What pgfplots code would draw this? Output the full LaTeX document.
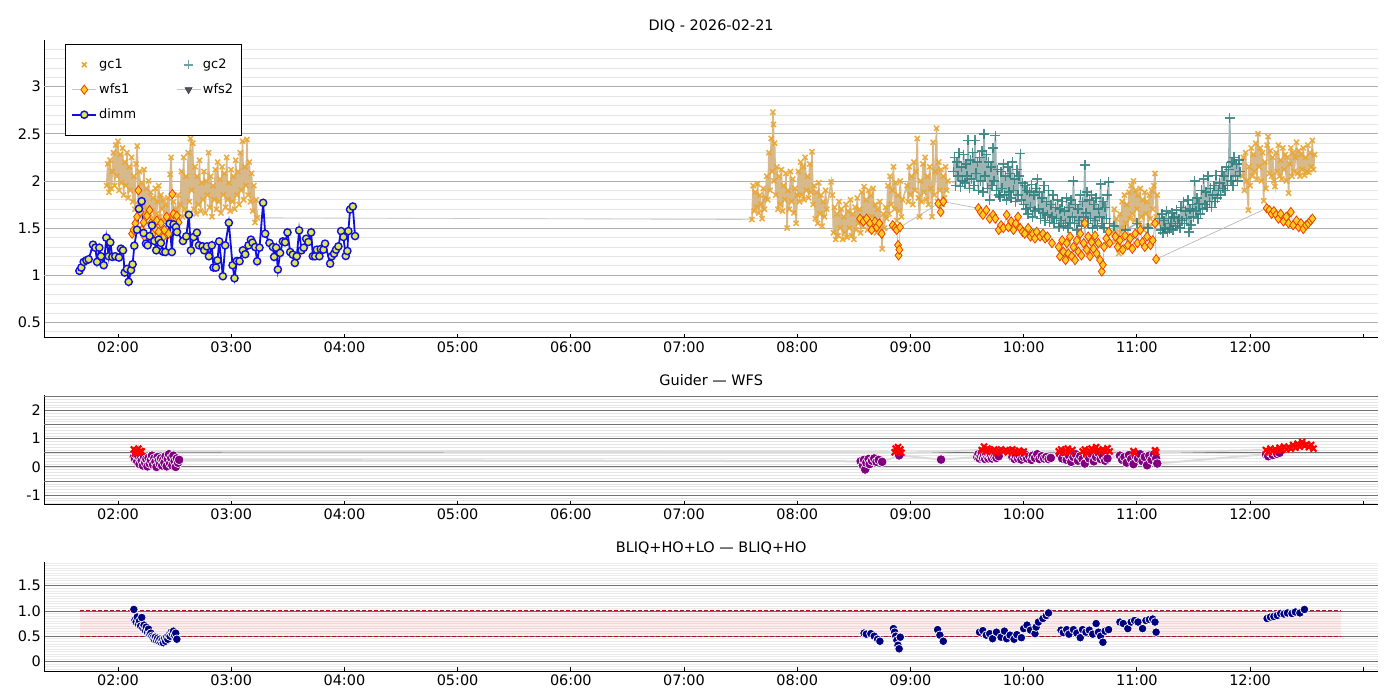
\documentclass[border=0pt]{standalone}
\usepackage{fontspec}
\setmainfont{DejaVu Sans}
\usepackage{pgfplots}
\usepackage{pgfplotstable}
\pgfplotsset{compat=1.18}

\definecolor{gcone}{RGB}{234,166,50}
\definecolor{gconeline}{RGB}{216,186,138}
\definecolor{gctwo}{RGB}{45,125,125}
\definecolor{gctwoline}{RGB}{155,180,180}
\definecolor{wfsfill}{RGB}{255,205,35}
\definecolor{wfsedge}{RGB}{235,65,0}
\definecolor{dimmblue}{RGB}{15,15,225}
\definecolor{dimmfill}{RGB}{225,230,80}
\definecolor{wfstwo}{RGB}{85,85,95}
\definecolor{purp}{RGB}{128,0,128}
\definecolor{navyc}{RGB}{0,0,128}
\definecolor{dred}{RGB}{170,20,30}

\pgfplotstableread[row sep=\\]{
x y\\
1.90 1.95\\ 1.91 2.18\\ 1.92 1.88\\ 1.93 2.22\\ 1.94 1.92\\ 1.95 2.10\\ 1.96 2.30\\ 1.97 1.95\\ 1.98 2.38\\ 1.99 2.05\\
2.00 2.42\\ 2.01 1.90\\ 2.02 2.28\\ 2.03 1.98\\ 2.04 2.35\\ 2.05 1.85\\ 2.06 2.20\\ 2.07 1.95\\ 2.08 2.30\\ 2.09 1.82\\
2.10 2.15\\ 2.11 1.90\\ 2.12 2.25\\ 2.13 1.78\\ 2.14 2.05\\ 2.15 1.70\\ 2.16 2.18\\ 2.17 2.37\\ 2.18 1.75\\ 2.19 2.10\\
2.20 1.68\\ 2.21 1.98\\ 2.22 1.72\\ 2.23 2.12\\ 2.24 1.66\\ 2.25 1.92\\ 2.26 1.70\\ 2.27 2.00\\ 2.28 1.62\\ 2.29 1.88\\
2.30 1.68\\ 2.31 1.82\\ 2.32 1.60\\ 2.33 1.92\\ 2.34 1.65\\ 2.35 1.78\\ 2.36 1.95\\ 2.37 1.62\\ 2.38 1.85\\ 2.39 1.70\\
2.40 1.80\\ 2.41 1.58\\ 2.42 1.75\\ 2.43 1.62\\ 2.44 1.82\\ 2.45 1.56\\ 2.46 2.07\\ 2.47 2.25\\ 2.48 1.60\\ 2.49 1.78\\
2.50 1.55\\ 2.51 1.70\\ 2.52 1.62\\ 2.53 1.85\\ 2.54 1.58\\ 2.55 1.75\\ 2.56 2.10\\ 2.57 1.62\\ 2.58 2.25\\ 2.59 1.70\\
2.60 2.05\\ 2.61 1.65\\ 2.62 2.30\\ 2.63 1.78\\ 2.64 2.45\\ 2.65 1.90\\ 2.66 2.40\\ 2.67 1.70\\ 2.68 2.15\\ 2.69 1.65\\
2.70 2.05\\ 2.71 1.75\\ 2.72 2.22\\ 2.73 1.68\\ 2.74 1.98\\ 2.75 1.80\\ 2.76 2.10\\ 2.77 1.66\\ 2.78 2.00\\ 2.79 1.85\\
2.80 2.30\\ 2.81 1.72\\ 2.82 2.05\\ 2.83 1.62\\ 2.84 1.95\\ 2.85 1.80\\ 2.86 2.12\\ 2.87 1.70\\ 2.88 2.20\\ 2.89 1.78\\
2.90 2.02\\ 2.91 1.66\\ 2.92 2.15\\ 2.93 1.85\\ 2.94 2.08\\ 2.95 1.72\\ 2.96 2.25\\ 2.97 1.80\\ 2.98 1.98\\ 2.99 1.68\\
3.00 2.12\\ 3.01 1.78\\ 3.02 2.05\\ 3.03 1.70\\ 3.04 2.22\\ 3.05 1.85\\ 3.06 2.10\\ 3.07 1.75\\ 3.08 2.30\\ 3.09 1.90\\
3.10 2.42\\ 3.11 1.80\\ 3.12 2.15\\ 3.13 1.95\\ 3.14 2.44\\ 3.15 1.85\\ 3.16 2.20\\ 3.17 1.78\\ 3.18 2.08\\ 3.19 1.68\\
3.20 1.95\\ 3.21 1.56\\ 3.22 1.80\\ 3.23 1.61\\ 5.00 nan\\
7.60 1.59\\ 7.61 1.95\\ 7.62 1.68\\ 7.63 1.88\\ 7.64 1.72\\ 7.65 1.97\\ 7.66 1.66\\ 7.67 1.85\\ 7.68 1.75\\ 7.69 1.60\\
7.70 1.92\\ 7.71 1.70\\ 7.72 1.82\\ 7.73 2.05\\ 7.74 1.80\\ 7.75 2.30\\ 7.76 1.90\\ 7.77 2.45\\ 7.78 2.10\\ 7.785 2.73\\
7.79 2.60\\ 7.795 2.00\\ 7.80 2.40\\ 7.81 1.85\\ 7.82 2.15\\ 7.83 1.70\\ 7.84 2.05\\ 7.85 1.75\\ 7.86 2.12\\ 7.87 1.68\\
7.88 1.95\\ 7.89 1.80\\ 7.90 2.08\\ 7.91 1.50\\ 7.92 1.90\\ 7.93 1.70\\ 7.94 2.10\\ 7.95 1.78\\ 7.96 2.02\\ 7.97 1.66\\
7.98 1.92\\ 7.99 1.55\\ 8.00 1.85\\ 8.01 2.10\\ 8.02 1.78\\ 8.03 2.20\\ 8.04 1.85\\ 8.05 2.15\\ 8.06 1.80\\ 8.07 2.25\\
8.08 1.90\\ 8.09 2.05\\ 8.10 1.82\\ 8.11 2.18\\ 8.12 1.88\\ 8.13 2.31\\ 8.14 1.75\\ 8.15 1.95\\ 8.16 1.60\\ 8.17 1.88\\
8.18 1.55\\ 8.19 1.98\\ 8.20 1.65\\ 8.21 1.85\\ 8.22 1.52\\ 8.23 1.78\\ 8.24 1.62\\ 8.25 1.90\\ 8.26 1.70\\ 8.30 1.99\\
8.31 1.85\\ 8.32 1.45\\ 8.33 1.72\\ 8.34 1.38\\ 8.35 1.65\\ 8.36 1.42\\ 8.37 1.78\\ 8.38 1.50\\ 8.39 1.70\\ 8.40 1.38\\
8.41 1.62\\ 8.42 1.45\\ 8.43 1.75\\ 8.44 1.40\\ 8.45 1.68\\ 8.46 1.50\\ 8.47 1.80\\ 8.48 1.42\\ 8.49 1.65\\ 8.50 1.38\\
8.51 1.72\\ 8.52 1.48\\ 8.53 1.82\\ 8.54 1.55\\ 8.55 1.70\\ 8.56 1.45\\ 8.57 1.88\\ 8.58 1.52\\ 8.59 1.94\\ 8.60 1.60\\
8.61 1.80\\ 8.62 1.48\\ 8.63 1.90\\ 8.64 1.55\\ 8.65 1.85\\ 8.66 1.62\\ 8.67 1.92\\ 8.68 1.50\\ 8.69 1.75\\ 8.70 1.45\\
8.71 1.70\\ 8.72 1.55\\ 8.73 1.78\\ 8.74 1.48\\ 8.75 1.28\\ 8.76 1.65\\ 8.77 1.50\\ 8.78 1.72\\ 8.79 1.60\\ 8.80 1.95\\
8.81 1.65\\ 8.82 2.05\\ 8.83 1.75\\ 8.84 1.90\\ 8.85 2.15\\ 8.86 1.70\\ 8.87 1.98\\ 8.88 1.58\\ 8.89 1.85\\ 8.90 1.68\\
8.91 2.00\\ 8.92 1.62\\ 8.93 1.80\\ 8.97 1.95\\ 8.98 1.78\\ 8.99 2.15\\ 9.00 1.85\\ 9.01 2.05\\ 9.02 1.75\\ 9.03 2.20\\
9.04 1.90\\ 9.05 2.10\\ 9.06 2.45\\ 9.07 1.82\\ 9.08 1.62\\ 9.09 2.00\\ 9.10 1.78\\ 9.11 2.18\\ 9.12 1.88\\ 9.13 2.25\\
9.14 1.80\\ 9.15 2.05\\ 9.16 1.75\\ 9.17 2.15\\ 9.18 1.92\\ 9.19 1.62\\ 9.20 2.41\\ 9.21 1.85\\ 9.22 2.10\\ 9.23 2.56\\
9.24 1.78\\ 9.25 2.20\\ 9.26 1.90\\ 9.27 2.12\\ 9.28 1.75\\ 9.29 2.05\\ 9.30 1.82\\ 9.31 2.15\\ 9.32 1.90\\ 9.33 2.00\\ 10.00 nan\\
10.79 1.45\\ 10.80 1.70\\ 10.81 1.35\\ 10.82 1.60\\ 10.83 1.40\\ 10.84 1.23\\ 10.85 1.65\\ 10.86 1.45\\ 10.87 1.78\\ 10.88 1.50\\
10.89 1.85\\ 10.90 1.55\\ 10.91 1.75\\ 10.92 1.42\\ 10.93 1.88\\ 10.94 1.60\\ 10.95 1.95\\ 10.96 1.65\\ 10.97 2.00\\ 10.98 1.58\\
10.99 1.90\\ 11.00 1.70\\ 11.01 1.85\\ 11.02 1.55\\ 11.03 1.92\\ 11.04 1.62\\ 11.05 1.80\\ 11.06 1.48\\ 11.07 1.88\\ 11.08 1.65\\
11.09 1.78\\ 11.10 1.52\\ 11.11 1.85\\ 11.12 1.60\\ 11.13 1.90\\ 11.14 1.70\\ 11.15 1.95\\ 11.16 2.08\\ 11.17 1.62\\ 11.18 1.85\\
11.19 1.55\\ 11.50 nan\\
11.93 2.05\\ 11.94 2.25\\ 11.95 1.90\\ 11.96 2.30\\ 11.97 2.00\\ 11.985 1.69\\ 11.99 2.15\\ 12.00 1.95\\ 12.01 2.35\\ 12.02 2.05\\
12.03 2.28\\ 12.04 2.10\\ 12.05 2.40\\ 12.06 2.02\\ 12.07 2.50\\ 12.08 2.15\\ 12.09 2.35\\ 12.10 2.00\\ 12.11 2.30\\ 12.12 1.79\\
12.13 2.20\\ 12.14 1.92\\ 12.15 2.38\\ 12.16 2.47\\ 12.17 2.08\\ 12.18 2.32\\ 12.19 2.05\\ 12.20 2.25\\ 12.21 2.00\\ 12.22 1.94\\
12.23 2.30\\ 12.24 2.10\\ 12.25 2.38\\ 12.26 2.05\\ 12.27 2.22\\ 12.28 2.02\\ 12.29 2.35\\ 12.30 2.12\\ 12.31 2.28\\ 12.32 2.00\\
12.33 2.25\\ 12.34 1.87\\ 12.35 2.18\\ 12.36 2.35\\ 12.37 2.05\\ 12.38 2.30\\ 12.39 2.10\\ 12.40 2.25\\ 12.41 2.41\\ 12.42 2.08\\
12.43 2.32\\ 12.44 2.05\\ 12.45 2.28\\ 12.46 2.12\\ 12.47 2.35\\ 12.48 2.06\\ 12.49 2.25\\ 12.50 2.10\\ 12.51 2.38\\ 12.52 2.09\\
12.53 2.30\\ 12.54 2.15\\ 12.55 2.43\\ 12.56 2.12\\ 12.57 2.28\\
}\gconetab

\pgfplotstableread[row sep=\\]{
x y\\
9.38 2.10\\ 9.39 2.25\\ 9.40 1.95\\ 9.41 2.20\\ 9.42 2.05\\ 9.43 2.30\\ 9.44 1.94\\ 9.45 2.15\\ 9.46 2.00\\ 9.47 2.28\\
9.48 1.98\\ 9.49 2.18\\ 9.50 2.05\\ 9.51 2.43\\ 9.52 1.92\\ 9.53 2.22\\ 9.54 2.02\\ 9.55 2.30\\ 9.56 1.95\\ 9.57 2.43\\
9.58 2.08\\ 9.59 2.20\\ 9.60 1.90\\ 9.61 2.25\\ 9.62 2.00\\ 9.63 2.32\\ 9.64 1.88\\ 9.65 2.50\\ 9.66 2.05\\ 9.67 2.28\\
9.68 1.92\\ 9.69 2.20\\ 9.70 1.80\\ 9.71 2.15\\ 9.72 1.95\\ 9.73 2.35\\ 9.74 2.00\\ 9.75 2.48\\ 9.76 1.90\\ 9.77 2.12\\
9.78 1.85\\ 9.79 1.83\\ 9.80 2.10\\ 9.81 1.92\\ 9.82 2.18\\ 9.83 1.85\\ 9.84 2.05\\ 9.85 1.80\\ 9.86 2.15\\ 9.87 1.88\\
9.88 2.08\\ 9.89 1.82\\ 9.90 2.20\\ 9.91 1.90\\ 9.92 2.02\\ 9.93 1.78\\ 9.94 2.12\\ 9.95 1.85\\ 9.96 2.05\\ 9.97 2.29\\
9.98 1.80\\ 9.99 1.98\\ 10.00 1.75\\ 10.01 1.95\\ 10.02 1.70\\ 10.03 1.90\\ 10.04 1.65\\ 10.05 1.88\\ 10.06 1.72\\ 10.07 1.96\\
10.08 1.62\\ 10.09 1.85\\ 10.10 1.68\\ 10.11 1.92\\ 10.12 2.02\\ 10.13 1.70\\ 10.14 1.88\\ 10.15 1.60\\ 10.16 1.82\\ 10.17 1.66\\
10.18 1.95\\ 10.19 1.58\\ 10.20 1.78\\ 10.21 1.64\\ 10.22 1.90\\ 10.23 1.56\\ 10.24 1.75\\ 10.25 1.62\\ 10.26 1.85\\ 10.27 1.55\\
10.28 1.72\\ 10.29 1.60\\ 10.30 1.80\\ 10.31 1.51\\ 10.32 1.70\\ 10.33 1.58\\ 10.34 1.78\\ 10.35 1.52\\ 10.36 1.68\\ 10.37 1.55\\
10.38 1.82\\ 10.39 1.50\\ 10.40 1.72\\ 10.41 1.56\\ 10.42 1.80\\ 10.43 1.62\\ 10.44 2.00\\ 10.45 1.55\\ 10.46 1.75\\ 10.47 1.48\\
10.48 1.70\\ 10.49 1.58\\ 10.50 1.85\\ 10.51 1.52\\ 10.52 1.78\\ 10.53 1.62\\ 10.54 2.17\\ 10.55 1.66\\ 10.56 1.88\\ 10.57 1.55\\
10.58 1.80\\ 10.59 1.60\\ 10.60 1.85\\ 10.61 1.50\\ 10.62 1.75\\ 10.63 1.58\\ 10.64 1.82\\ 10.65 1.52\\ 10.66 1.70\\ 10.67 1.62\\
10.68 1.97\\ 10.69 1.55\\ 10.70 1.78\\ 10.71 1.50\\ 10.72 1.72\\ 10.73 1.60\\ 10.74 1.85\\ 10.75 1.99\\ 10.76 1.55\\ 10.80 1.52\\
10.90 1.48\\ 11.00 1.55\\ 11.10 1.50\\ 11.20 1.60\\ 11.21 1.48\\ 11.22 1.65\\ 11.23 1.45\\ 11.24 1.58\\ 11.25 1.50\\ 11.26 1.68\\
11.27 1.46\\ 11.28 1.60\\ 11.29 1.49\\ 11.30 1.55\\ 11.31 1.66\\ 11.32 1.48\\ 11.33 1.62\\ 11.34 1.52\\ 11.35 1.69\\ 11.36 1.55\\
11.37 1.60\\ 11.38 1.50\\ 11.39 1.72\\ 11.40 1.58\\ 11.41 1.78\\ 11.42 1.55\\ 11.43 1.68\\ 11.44 1.60\\ 11.45 1.80\\ 11.46 1.46\\
11.47 1.70\\ 11.48 1.53\\ 11.49 1.75\\ 11.50 1.62\\ 11.51 2.00\\ 11.52 1.68\\ 11.53 1.82\\ 11.54 1.60\\ 11.55 1.76\\ 11.56 1.65\\
11.57 1.90\\ 11.58 1.70\\ 11.59 2.02\\ 11.60 1.75\\ 11.61 1.88\\ 11.62 1.72\\ 11.63 2.05\\ 11.64 1.78\\ 11.65 1.92\\ 11.66 1.72\\
11.67 1.85\\ 11.68 1.95\\ 11.69 1.78\\ 11.70 2.06\\ 11.71 1.82\\ 11.72 1.90\\ 11.73 1.98\\ 11.74 1.85\\ 11.75 2.10\\ 11.76 1.92\\
11.77 2.05\\ 11.78 1.90\\ 11.79 2.15\\ 11.80 1.95\\ 11.81 2.12\\ 11.82 2.67\\ 11.83 2.00\\ 11.84 2.20\\ 11.85 1.95\\ 11.86 2.25\\
11.87 2.05\\ 11.88 2.18\\ 11.89 2.00\\ 11.90 2.22\\ 11.91 2.10\\
}\gctwotab

\pgfplotstableread[row sep=\\]{
x y\\
2.124 1.44\\ 2.138 1.48\\ 2.153 1.55\\ 2.168 1.62\\ 2.180 1.90\\ 2.197 1.67\\ 2.210 1.48\\ 2.226 1.56\\ 2.240 1.40\\ 2.256 1.63\\
2.279 1.69\\ 2.290 1.55\\ 2.310 1.44\\ 2.330 1.49\\ 2.344 1.58\\ 2.359 1.46\\ 2.380 1.55\\ 2.397 1.40\\ 2.410 1.48\\ 2.430 1.62\\
2.447 1.44\\ 2.460 1.56\\ 2.480 1.86\\ 2.490 1.65\\ 2.506 1.51\\ 2.520 1.63\\ 2.535 1.56\\ 2.600 nan\\
8.554 1.60\\ 8.584 1.57\\ 8.613 1.60\\ 8.643 1.55\\ 8.657 1.48\\ 8.687 1.57\\ 8.702 1.51\\ 8.725 1.55\\ 8.746 1.44\\ 8.843 1.53\\
8.864 1.50\\ 8.878 1.48\\ 8.890 1.32\\ 8.895 1.21\\ 8.902 1.27\\ 8.908 1.51\\ 9.246 1.76\\ 9.267 1.67\\ 9.290 1.78\\ 9.600 1.71\\
9.620 1.67\\ 9.640 1.64\\ 9.670 1.69\\ 9.700 1.60\\ 9.730 1.64\\ 9.750 1.60\\ 9.780 1.48\\ 9.800 1.53\\ 9.820 1.50\\ 9.850 1.64\\
9.865 1.51\\ 9.890 1.57\\ 9.910 1.48\\ 9.930 1.55\\ 9.950 1.62\\ 9.970 1.50\\ 9.990 1.46\\ 10.010 1.44\\ 10.040 1.50\\ 10.060 1.41\\
10.080 1.44\\ 10.100 1.39\\ 10.115 1.46\\ 10.145 1.41\\ 10.170 1.44\\ 10.190 1.39\\ 10.210 1.41\\ 10.250 1.34\\ 10.310 1.30\\ 10.320 1.20\\
10.340 1.37\\ 10.350 1.25\\ 10.370 1.16\\ 10.380 1.34\\ 10.395 1.23\\ 10.410 1.41\\ 10.425 1.20\\ 10.440 1.30\\ 10.454 1.16\\ 10.470 1.37\\
10.483 1.25\\ 10.500 1.44\\ 10.510 1.21\\ 10.530 1.34\\ 10.540 1.55\\ 10.557 1.27\\ 10.570 1.41\\ 10.586 1.20\\ 10.600 1.35\\ 10.616 1.28\\
10.630 1.42\\ 10.645 1.23\\ 10.660 1.34\\ 10.675 1.16\\ 10.690 1.04\\ 10.700 1.11\\ 10.710 1.30\\ 10.730 1.39\\ 10.750 1.46\\ 10.760 1.34\\
10.810 1.41\\ 10.830 1.30\\ 10.850 1.37\\ 10.875 1.27\\ 10.895 1.42\\ 10.920 1.32\\ 10.940 1.39\\ 10.960 1.28\\ 10.985 1.44\\ 11.005 1.34\\
11.030 1.48\\ 11.050 1.35\\ 11.070 1.30\\ 11.090 1.41\\ 11.120 1.32\\ 11.140 1.37\\ 11.160 1.55\\ 11.170 1.17\\
12.147 1.71\\ 12.170 1.69\\ 12.190 1.65\\ 12.210 1.68\\ 12.230 1.64\\ 12.250 1.60\\ 12.270 1.65\\ 12.295 1.57\\ 12.320 1.62\\ 12.340 1.55\\
12.360 1.67\\ 12.380 1.53\\ 12.410 1.58\\ 12.430 1.51\\ 12.450 1.55\\ 12.470 1.49\\ 12.495 1.53\\ 12.515 1.55\\ 12.535 1.58\\ 12.550 1.60\\
}\wfsonetab

\pgfplotstableread[row sep=\\]{
x y\\
1.659 1.046\\ 1.676 1.081\\ 1.697 1.141\\ 1.721 1.158\\ 1.741 1.169\\ 1.779 1.324\\ 1.800 1.292\\ 1.815 1.141\\ 1.835 1.292\\ 1.850 1.201\\
1.874 1.106\\ 1.897 1.398\\ 1.918 1.201\\ 1.932 1.349\\ 1.950 1.194\\ 1.976 1.201\\ 2.009 1.187\\ 2.026 1.282\\ 2.044 1.264\\ 2.059 1.028\\
2.079 1.067\\ 2.094 0.930\\ 2.115 1.053\\ 2.129 1.116\\ 2.144 1.313\\ 2.168 1.482\\ 2.185 1.704\\ 2.209 1.785\\ 2.226 1.447\\ 2.247 1.335\\
2.262 1.317\\ 2.279 1.415\\ 2.300 1.528\\ 2.321 1.363\\ 2.338 1.264\\ 2.359 1.377\\ 2.379 1.342\\ 2.397 1.250\\ 2.418 1.246\\ 2.456 1.546\\
2.476 1.246\\ 2.491 1.539\\ 2.512 1.511\\ 2.521 1.458\\ 2.574 1.363\\ 2.603 1.412\\ 2.626 1.641\\ 2.644 1.264\\ 2.668 1.405\\ 2.697 1.451\\
2.715 1.317\\ 2.747 1.306\\ 2.762 1.264\\ 2.785 1.306\\ 2.803 1.201\\ 2.829 1.317\\ 2.844 1.081\\ 2.865 1.081\\ 2.879 1.158\\ 2.894 1.359\\
2.926 0.989\\ 2.947 1.317\\ 2.979 1.556\\ 3.012 1.106\\ 3.029 0.968\\ 3.050 1.151\\ 3.074 1.148\\ 3.103 1.264\\ 3.124 1.222\\ 3.153 1.317\\
3.174 1.377\\ 3.188 1.345\\ 3.212 1.299\\ 3.229 1.148\\ 3.250 1.292\\ 3.282 1.768\\ 3.300 1.440\\ 3.338 1.342\\ 3.368 1.299\\ 3.379 1.194\\
3.397 1.292\\ 3.412 1.060\\ 3.432 1.236\\ 3.456 1.359\\ 3.476 1.349\\ 3.497 1.454\\ 3.521 1.246\\ 3.544 1.218\\ 3.562 1.130\\ 3.579 1.201\\
3.600 1.475\\ 3.621 1.264\\ 3.641 1.292\\ 3.662 1.387\\ 3.682 1.352\\ 3.706 1.454\\ 3.721 1.201\\ 3.741 1.201\\ 3.756 1.271\\ 3.779 1.201\\
3.791 1.278\\ 3.815 1.271\\ 3.829 1.335\\ 3.874 1.123\\ 3.888 1.201\\ 3.909 1.229\\ 3.926 1.271\\ 3.947 1.306\\ 3.971 1.468\\ 3.991 1.405\\
4.012 1.204\\ 4.026 1.257\\ 4.035 1.468\\ 4.050 1.697\\ 4.074 1.729\\ 4.094 1.415\\
}\dimmtab

\pgfplotstableread[row sep=\\]{
x y\\
2.14 0.35\\ 2.15 0.28\\ 2.16 0.45\\ 2.17 0.20\\ 2.18 0.38\\ 2.19 0.10\\ 2.20 0.30\\ 2.21 0.22\\ 2.22 0.05\\ 2.23 0.35\\
2.24 0.15\\ 2.25 0.28\\ 2.26 0.02\\ 2.27 0.32\\ 2.28 0.12\\ 2.29 0.25\\ 2.30 0.40\\ 2.31 0.08\\ 2.32 0.30\\ 2.33 0.18\\
2.34 0.00\\ 2.35 0.35\\ 2.36 0.22\\ 2.37 0.10\\ 2.38 0.30\\ 2.39 0.05\\ 2.40 0.25\\ 2.41 0.15\\ 2.42 0.38\\ 2.43 0.02\\
2.44 0.28\\ 2.45 0.45\\ 2.46 0.12\\ 2.47 0.32\\ 2.48 0.05\\ 2.49 0.40\\ 2.50 0.20\\ 2.51 0.00\\ 2.52 0.30\\ 2.53 0.15\\
2.54 0.25\\
8.56 0.20\\ 8.58 0.05\\ 8.59 0.25\\ 8.60 -0.09\\ 8.61 0.15\\ 8.63 0.28\\ 8.64 0.10\\ 8.66 0.22\\ 8.68 0.30\\ 8.70 0.18\\
8.72 0.25\\ 8.75 0.18\\ 8.90 0.41\\ 9.27 0.26\\
9.59 0.35\\ 9.60 0.45\\ 9.61 0.30\\ 9.62 0.40\\ 9.63 0.50\\ 9.64 0.32\\ 9.65 0.42\\ 9.66 0.28\\ 9.67 0.45\\ 9.68 0.35\\
9.69 0.30\\ 9.70 0.42\\ 9.71 0.38\\ 9.72 0.30\\ 9.73 0.44\\ 9.74 0.36\\ 9.75 0.40\\ 9.76 0.32\\ 9.78 0.38\\
9.90 0.35\\ 9.92 0.28\\ 9.93 0.40\\ 9.95 0.30\\ 9.96 0.42\\ 9.98 0.26\\ 10.00 0.35\\ 10.01 0.45\\ 10.03 0.30\\ 10.05 0.38\\
10.07 0.25\\ 10.08 0.40\\ 10.10 0.32\\ 10.12 0.45\\ 10.14 0.28\\ 10.16 0.38\\ 10.18 0.30\\ 10.20 0.35\\ 10.22 0.28\\ 10.24 0.32\\
10.32 0.45\\ 10.34 0.30\\ 10.36 0.50\\ 10.38 0.25\\ 10.40 0.40\\ 10.42 0.18\\ 10.44 0.35\\ 10.46 0.45\\ 10.48 0.22\\ 10.50 0.38\\
10.52 0.28\\ 10.54 0.12\\ 10.56 0.40\\ 10.58 0.30\\ 10.60 0.45\\ 10.62 0.20\\ 10.64 0.35\\ 10.66 0.50\\ 10.68 0.28\\ 10.70 0.38\\
10.72 0.22\\ 10.74 0.30\\
10.85 0.40\\ 10.87 0.25\\ 10.89 0.35\\ 10.91 0.15\\ 10.93 0.42\\ 10.95 0.28\\ 10.97 0.10\\ 10.99 0.38\\ 11.01 0.30\\ 11.03 0.45\\
11.05 0.20\\ 11.07 0.35\\ 11.09 0.06\\ 11.11 0.40\\ 11.13 0.25\\ 11.15 0.45\\ 11.17 0.30\\ 11.18 0.12\\
12.14 0.45\\ 12.16 0.38\\ 12.18 0.50\\ 12.20 0.42\\ 12.22 0.53\\ 12.24 0.46\\ 12.26 0.50\\
}\guidetab

\pgfplotstableread[row sep=\\]{
x y\\
2.14 0.62\\ 2.15 0.48\\ 2.16 0.58\\ 2.17 0.52\\ 2.18 0.65\\ 2.19 0.50\\ 2.20 0.56\\ 2.21 0.55\\
8.86 0.52\\ 8.87 0.65\\ 8.88 0.58\\ 8.89 0.70\\ 8.90 0.55\\ 8.91 0.62\\ 8.92 0.50\\
9.63 0.60\\ 9.65 0.72\\ 9.67 0.55\\ 9.68 0.65\\ 9.70 0.60\\ 9.72 0.55\\ 9.74 0.62\\ 9.76 0.50\\ 9.78 0.58\\ 9.80 0.62\\
9.82 0.55\\ 9.84 0.60\\ 9.86 0.52\\ 9.88 0.58\\ 9.90 0.62\\ 9.92 0.55\\ 9.94 0.50\\ 9.96 0.58\\ 9.98 0.52\\ 10.00 0.55\\
10.31 0.55\\ 10.33 0.62\\ 10.35 0.50\\ 10.37 0.58\\ 10.39 0.65\\ 10.41 0.52\\ 10.43 0.60\\
10.52 0.55\\ 10.54 0.62\\ 10.56 0.48\\ 10.58 0.58\\ 10.60 0.65\\ 10.62 0.55\\ 10.64 0.70\\ 10.66 0.60\\ 10.68 0.52\\ 10.70 0.62\\
10.72 0.58\\ 10.74 0.66\\ 10.76 0.55\\ 10.97 0.56\\ 10.98 0.50\\ 11.16 0.59\\ 11.17 0.52\\
12.14 0.60\\ 12.16 0.52\\ 12.18 0.65\\ 12.20 0.55\\ 12.22 0.62\\ 12.24 0.58\\ 12.26 0.68\\ 12.28 0.60\\ 12.30 0.72\\ 12.32 0.62\\
12.34 0.70\\ 12.36 0.65\\ 12.38 0.78\\ 12.40 0.68\\ 12.42 0.82\\ 12.44 0.72\\ 12.46 0.88\\ 12.48 0.75\\ 12.50 0.80\\ 12.52 0.70\\
12.54 0.78\\ 12.56 0.65\\
}\wfsguidetab

\pgfplotstableread[row sep=\\]{
x y\\
2.14 1.03\\ 2.15 0.82\\ 2.16 0.78\\ 2.17 0.88\\ 2.18 0.74\\ 2.19 0.80\\ 2.20 0.70\\ 2.21 0.87\\ 2.22 0.66\\ 2.23 0.72\\
2.24 0.62\\ 2.25 0.68\\ 2.26 0.58\\ 2.27 0.64\\ 2.28 0.54\\ 2.29 0.56\\ 2.30 0.50\\ 2.31 0.47\\ 2.32 0.44\\ 2.33 0.48\\
2.34 0.42\\ 2.35 0.46\\ 2.36 0.40\\ 2.37 0.44\\ 2.38 0.38\\ 2.39 0.42\\ 2.40 0.37\\ 2.41 0.45\\ 2.42 0.40\\ 2.43 0.48\\
2.44 0.44\\ 2.45 0.52\\ 2.46 0.50\\ 2.47 0.58\\ 2.48 0.55\\ 2.49 0.60\\ 2.50 0.52\\ 2.51 0.56\\ 2.52 0.44\\
8.59 0.56\\ 8.61 0.54\\ 8.65 0.55\\ 8.68 0.50\\ 8.71 0.44\\ 8.73 0.40\\ 8.85 0.65\\ 8.86 0.58\\ 8.87 0.50\\ 8.88 0.42\\
8.89 0.32\\ 8.90 0.25\\ 8.91 0.48\\ 9.24 0.63\\ 9.26 0.52\\ 9.29 0.40\\
9.61 0.58\\ 9.64 0.61\\ 9.67 0.52\\ 9.70 0.55\\ 9.725 0.45\\ 9.76 0.58\\ 9.80 0.48\\ 9.83 0.60\\ 9.85 0.45\\ 9.88 0.52\\
9.915 0.44\\ 9.94 0.53\\ 9.98 0.47\\ 10.00 0.65\\ 10.03 0.72\\ 10.06 0.62\\ 10.10 0.55\\ 10.11 0.68\\ 10.13 0.78\\ 10.17 0.85\\
10.20 0.91\\ 10.22 0.96\\
10.33 0.62\\ 10.35 0.57\\ 10.38 0.63\\ 10.40 0.54\\ 10.44 0.63\\ 10.47 0.56\\ 10.50 0.47\\ 10.52 0.63\\ 10.55 0.58\\ 10.58 0.62\\
10.61 0.54\\ 10.64 0.75\\ 10.66 0.58\\ 10.68 0.50\\ 10.70 0.38\\ 10.72 0.60\\ 10.75 0.63\\
10.85 0.78\\ 10.88 0.75\\ 10.92 0.65\\ 10.95 0.78\\ 10.98 0.81\\ 11.01 0.78\\ 11.05 0.65\\ 11.08 0.81\\ 11.11 0.83\\ 11.14 0.84\\
11.16 0.78\\ 11.17 0.58\\
12.15 0.85\\ 12.18 0.88\\ 12.21 0.89\\ 12.24 0.91\\ 12.27 0.95\\ 12.30 0.94\\ 12.33 0.96\\ 12.37 0.95\\ 12.40 0.98\\ 12.44 0.96\\
12.48 1.03\\
}\bliqtab

\pgfplotsset{
  panel/.style={
    scale only axis, width=1333.7bp,
    xmin=1.349, xmax=13.13,
    axis x line*=bottom, axis y line*=left,
    axis line style={-, line width=1bp, black},
    every inner x axis line/.append style={-},
    every inner y axis line/.append style={-},
    xtick={2,3,4,5,6,7,8,9,10,11,12,13},
    xticklabels={02:00,03:00,04:00,05:00,06:00,07:00,08:00,09:00,10:00,11:00,12:00,{}},
    tick align=inside, major tick length=4bp,
    xtick style={black, line width=0.8bp},
    ytick style={draw=none},
    ymajorgrids, yminorgrids,
    major grid style={black!32, line width=0.8bp},
    minor grid style={black!10, line width=0.6bp},
    minor tick length=0pt,
    ticklabel style={font=\fontsize{14.5}{17}\selectfont},
    /pgf/number format/assume math mode=true,
    title style={font=\fontsize{14.5}{17}\selectfont, at={(0.5,1)}, anchor=base, yshift=3.5bp},
    unbounded coords=jump,
    legend image code/.code={\draw[mark repeat=2,mark phase=2] plot coordinates {(0bp,0bp)(12bp,0bp)(24bp,0bp)};},
  }
}

\begin{document}
\begin{tikzpicture}
\useasboundingbox (0,0) rectangle (1400bp,700bp);

% ---------------- top panel ----------------
\begin{axis}[panel, at={(44.3bp,362bp)}, anchor=south west, height=298bp,
  ymin=0.334, ymax=3.495,
  ytick={0.5,1,1.5,2,2.5,3},
  minor ytick={0.4,0.5,...,3.45},
  extra y ticks={1,2,3}, extra y tick labels={},
  extra y tick style={grid style={black!55, line width=0.9bp}},
  title={DIQ - 2026-02-21},
  legend columns=2, legend cell align=left,
  legend style={at={(0.0155,0.987)}, anchor=north west, draw=black, line width=0.8bp, fill=white,
    font=\fontsize{13}{15}\selectfont, inner xsep=6bp, inner ysep=13bp, row sep=9.7bp,
    /tikz/every even column/.append style={column sep=38bp}},
]
% thin connecting line of gc1 (also across the gaps)
\addplot[forget plot, color=black!22, line width=0.6bp, unbounded coords=discard] table {\gconetab};
% dense cores (zigzag lines through the samples)
\addplot[forget plot, color=gconeline, line width=1.6bp, unbounded coords=jump] table {\gconetab};
\addplot[forget plot, color=gctwoline, line width=1.6bp] table {\gctwotab};
% markers
\addplot[forget plot, only marks, mark=x, mark size=3.6bp, mark options={draw=gcone, line width=1.6bp, opacity=0.9}] table {\gconetab};
\addplot[forget plot, only marks, mark=+, mark size=5bp, mark options={draw=gctwo, line width=1.5bp, opacity=0.85}] table {\gctwotab};
\addplot[forget plot, color=black!28, line width=0.7bp, mark=diamond*, mark size=4.6bp,
  mark options={fill=wfsfill, draw=wfsedge, line width=0.8bp}] table {\wfsonetab};
\addplot[forget plot, color=dimmblue, line width=1.8bp, mark=*, mark size=3.6bp,
  mark options={fill=dimmfill, draw=dimmblue, line width=1.4bp}] table {\dimmtab};

\addlegendimage{only marks, mark=x, mark size=3.4bp, mark options={draw=gcone, line width=1.6bp},
  legend image code/.code={\draw plot coordinates {(12bp,0bp)};}}
\addlegendentry{gc1}
\addlegendimage{only marks, mark=+, mark size=4.5bp, mark options={draw=gctwo!70!white, line width=1.4bp},
  legend image code/.code={\draw plot coordinates {(12bp,0bp)};}}
\addlegendentry{gc2}
\addlegendimage{color=black!22, line width=0.7bp, mark=diamond*, mark size=4.6bp,
  mark options={fill=wfsfill, draw=wfsedge, line width=0.8bp}}
\addlegendentry{wfs1}
\addlegendimage{color=black!22, line width=0.7bp, mark=triangle*, mark size=4bp,
  mark options={fill=wfstwo, draw=wfstwo!70!black, rotate=180, line width=0.6bp}}
\addlegendentry{wfs2}
\addlegendimage{color=dimmblue, line width=1.8bp, mark=*, mark size=3.6bp,
  mark options={fill=dimmfill, draw=dimmblue, line width=1.4bp}}
\addlegendentry{dimm}
\end{axis}

% ---------------- middle panel ----------------
\begin{axis}[panel, at={(44.3bp,195bp)}, anchor=south west, height=110bp,
  ymin=-1.35, ymax=2.55,
  ytick={-1,0,1,2},
  minor ytick={-1.3,-1.2,...,2.55},
  extra y ticks={-0.5,0.5,1.5,2.5}, extra y tick labels={},
  extra y tick style={grid style={black!30, line width=0.8bp}},
  major grid style={black!55, line width=0.9bp},
  title={Guider — WFS},
]
\addplot[forget plot, color=black!14, line width=2bp] table {\wfsguidetab};
\addplot[forget plot, color=black!14, line width=2bp] table {\guidetab};
\addplot[forget plot, only marks, mark=*, mark size=4.8bp, mark options={fill=purp, draw=white, line width=0.6bp}] table {\guidetab};
\addplot[forget plot, only marks, mark=x, mark size=4.2bp, mark options={draw=red, line width=2.2bp}] table {\wfsguidetab};
\end{axis}

% ---------------- bottom panel ----------------
\begin{axis}[panel, at={(44.3bp,29bp)}, anchor=south west, height=109.3bp,
  ymin=-0.19, ymax=1.976,
  ytick={0,0.5,1,1.5}, yticklabels={0,0.5,1.0,1.5},
  minor ytick={-0.15,-0.1,...,1.96},
  major grid style={black!55, line width=0.9bp},
  minor grid style={black!8, line width=0.5bp},
  title={BLIQ+HO+LO — BLIQ+HO},
]
\addplot[forget plot, fill=red, fill opacity=0.07, draw=none] coordinates {(1.664,0.5) (12.80,0.5) (12.80,1.0) (1.664,1.0)} -- cycle;
\addplot[forget plot, color=dred, line width=1bp, dash pattern=on 4bp off 2bp] coordinates {(1.664,0.5) (12.80,0.5)};
\addplot[forget plot, color=dred, line width=1bp, dash pattern=on 4bp off 2bp] coordinates {(1.664,1.0) (12.80,1.0)};
\addplot[forget plot, only marks, mark=*, mark size=4.3bp, mark options={fill=navyc, draw=white, line width=0.7bp}] table {\bliqtab};
\end{axis}
\end{tikzpicture}
\end{document}
